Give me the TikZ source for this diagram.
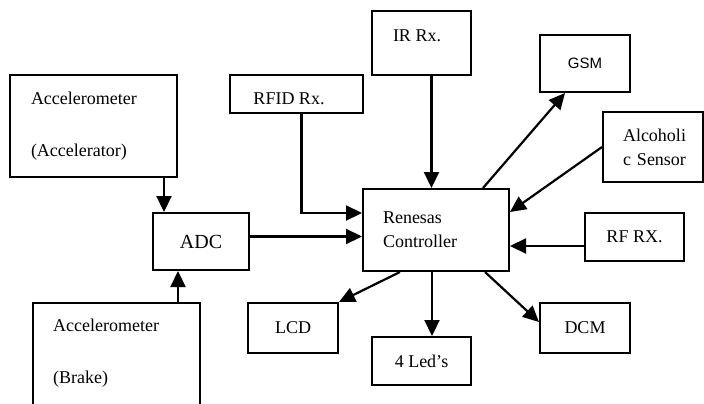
\documentclass[tikz,border=0pt]{standalone}
\usepackage{fontspec}
\setmainfont{Liberation Serif}
\newfontfamily\gsmfont{Liberation Sans}
\usepackage{tikz}
\usetikzlibrary{arrows.meta}

\tikzset{
    blk/.style={draw, line width=2pt, inner sep=0pt,
        font=\fontsize{18}{21}\selectfont},
    lbl/.style={inner sep=0pt, font=\fontsize{18}{21}\selectfont},
    link/.style={line width=2.2pt, -{Triangle[length=16pt,width=15pt]}}
}

\begin{document}
\begin{tikzpicture}[x=1pt, y=-1pt]
\clip (0,0) rectangle (704,404);
% Input side
\node[blk, minimum width=167pt, minimum height=102pt, text width=125pt,
    inner xsep=21pt, align=left] (acc) at (93.5,126)
    {Accelerometer\\[31pt](Accelerator)};
\node[blk, minimum width=96pt, minimum height=57pt,
    font=\fontsize{20}{24}\selectfont] (adc) at (201,241.5) {ADC};
\node[blk, minimum width=167pt, minimum height=130pt] (brake) at (116.5,368) {};
\node[lbl, anchor=west, align=left] (braketxt) at (53,353)
    {Accelerometer\\[31pt](Brake)};
\node[blk, minimum width=133pt, minimum height=38pt] (rfid) at (296.5,94) {};
\node[lbl] (rfidtxt) at (289,99) {RFID Rx.};
\node[blk, minimum width=99pt, minimum height=64pt] (ir) at (421.5,43) {};
\node[lbl] (irtxt) at (417,36) {IR Rx.};
% Controller
\node[blk, minimum width=146pt, minimum height=82pt, text width=106pt,
    inner xsep=20pt, align=left] (ctrl) at (436,230)
    {Renesas\\[3pt]Controller};
% Right side
\node[blk, minimum width=90pt, minimum height=57pt,
    font=\gsmfont\fontsize{15}{18}\selectfont] (gsm) at (585,63.5) {GSM};
\node[blk, minimum width=100pt, minimum height=70pt, text width=60pt,
    inner xsep=20pt, align=left] (alc) at (653,147)
    {\mbox{Alcoholi}\\[3pt]\mbox{c Sensor}};
\node[blk, minimum width=99pt, minimum height=48pt] (rf) at (634.5,237) {RF RX.};
% Outputs
\node[blk, minimum width=90pt, minimum height=50pt] (lcd) at (293,328) {LCD};
\node[blk, minimum width=99pt, minimum height=48pt] (led) at (421.5,361) {4 Led’s};
\node[blk, minimum width=90pt, minimum height=50pt] (dcm) at (585,328) {DCM};
% Arrows
\draw[link] ([xshift=12pt]adc.north west |- acc.south) -- ([xshift=12pt]adc.north west);
\draw[link] ([xshift=-23pt]brake.north east) -- ([xshift=-23pt]brake.north east |- adc.south);
\draw[link] ([yshift=5pt]adc.east) -- ([yshift=5pt]adc.east -| ctrl.west);
\draw[link] ([xshift=5pt]rfid.south) |- ([yshift=17pt]ctrl.west);
\draw[link] ([xshift=10pt]ir.south) -- ([xshift=10pt]ir.south |- ctrl.north);
\draw[link] ([xshift=47pt]ctrl.north) -- ([xshift=-20pt]gsm.south);
\draw[link] (alc.west) -- ([yshift=18pt]ctrl.east);
\draw[link] ([yshift=-9pt]rf.west) -- ([yshift=-9pt]rf.west -| ctrl.east);
\draw[link] ([xshift=-36pt]ctrl.south) -- (lcd.north east);
\draw[link] ([xshift=-4pt]ctrl.south) -- ([xshift=-4pt]ctrl.south |- led.north);
\draw[link] ([xshift=49pt]ctrl.south) -- ([yshift=6pt]dcm.west);
\end{tikzpicture}
\end{document}
